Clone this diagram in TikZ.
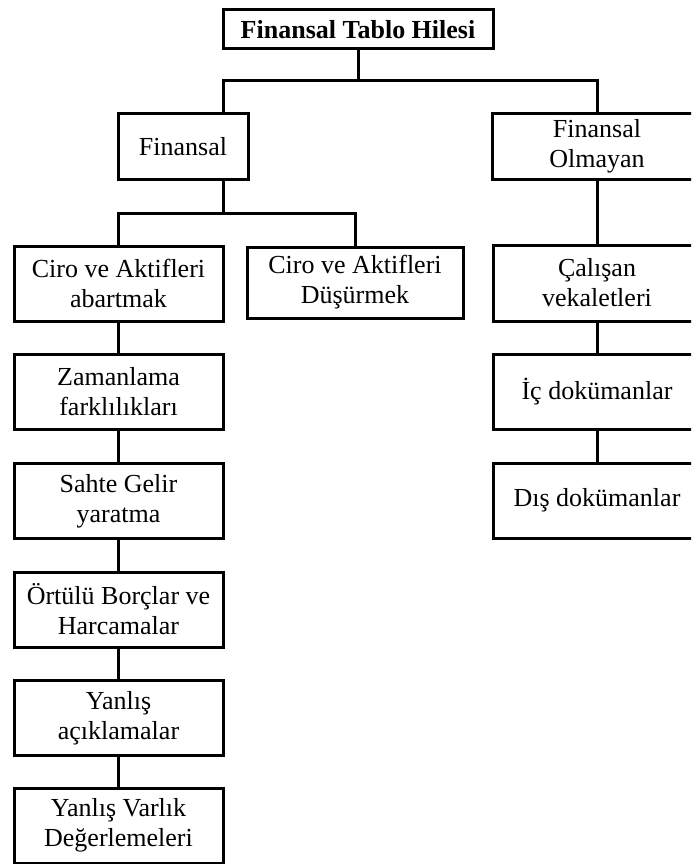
\documentclass[tikz,border=0pt]{standalone}
\usepackage{fontspec}
\setmainfont{Liberation Serif}
\begin{document}
\begin{tikzpicture}[x=1pt,y=-1pt,
  box/.style={draw=black, line width=3pt, rectangle, align=center, inner sep=0pt,
    font=\fontsize{26}{30}\selectfont},
  link/.style={draw=black, line width=3pt}]
\useasboundingbox (0,0) rectangle (691,864);
\clip (0,0) rectangle (691,864);

% root
\node[box, minimum width=270pt, minimum height=39pt, font=\fontsize{26}{30}\selectfont\bfseries]
  (root) at (358,29.5) {Finansal Tablo Hilesi};

% second level
\node[box, minimum width=130pt, minimum height=65pt] (fin) at (183,146.5) {Finansal};
\node[box, minimum width=210pt, minimum height=65pt] (olm) at (597,146.5) {Finansal\\Olmayan};

% financial branch
\node[box, minimum width=209pt, minimum height=75pt] (abart) at (118.5,283.5) {Ciro ve Aktifleri\\abartmak};
\node[box, minimum width=216pt, minimum height=71pt] (dusur) at (355,282.5) {Ciro ve Aktifleri\\Düşürmek};
\node[box, minimum width=209pt, minimum height=75pt] (zaman) at (118.5,391.5) {Zamanlama\\farklılıkları};
\node[box, minimum width=209pt, minimum height=75pt] (sahte) at (118.5,501) {Sahte Gelir\\yaratma};
\node[box, minimum width=209pt, minimum height=75pt] (ortulu) at (118.5,609.5) {Örtülü Borçlar ve\\Harcamalar};
\node[box, minimum width=209pt, minimum height=75pt] (acik) at (118.5,718) {Yanlış\\açıklamalar};
\node[box, minimum width=209pt, minimum height=75pt] (varlik) at (118.5,825.5) {Yanlış Varlık\\Değerlemeleri};

% non-financial branch
\node[box, minimum width=208pt, minimum height=76pt] (calis) at (597,283) {Çalışan\\vekaletleri};
\node[box, minimum width=208pt, minimum height=75pt] (icdok) at (597,391.5) {İç dokümanlar};
\node[box, minimum width=208pt, minimum height=75pt] (disdok) at (597,500.5) {Dış dokümanlar};

% junction points
\coordinate (j1) at (358,81);
\path (fin.north) ++(40,0) coordinate (finN);
\path (fin.south) ++(40,0) coordinate (finS);
\coordinate (j2) at (223,213);

% connectors
\draw[link] (root.south) -- (j1) -| (finN);
\draw[link] (j1) -| (olm.north);
\draw[link] (finS) -- (j2) -| (abart.north);
\draw[link] (j2) -| (dusur.north);
\draw[link] (abart) -- (zaman);
\draw[link] (zaman) -- (sahte);
\draw[link] (sahte) -- (ortulu);
\draw[link] (ortulu) -- (acik);
\draw[link] (acik) -- (varlik);
\draw[link] (olm) -- (calis);
\draw[link] (calis) -- (icdok);
\draw[link] (icdok) -- (disdok);
\end{tikzpicture}
\end{document}
